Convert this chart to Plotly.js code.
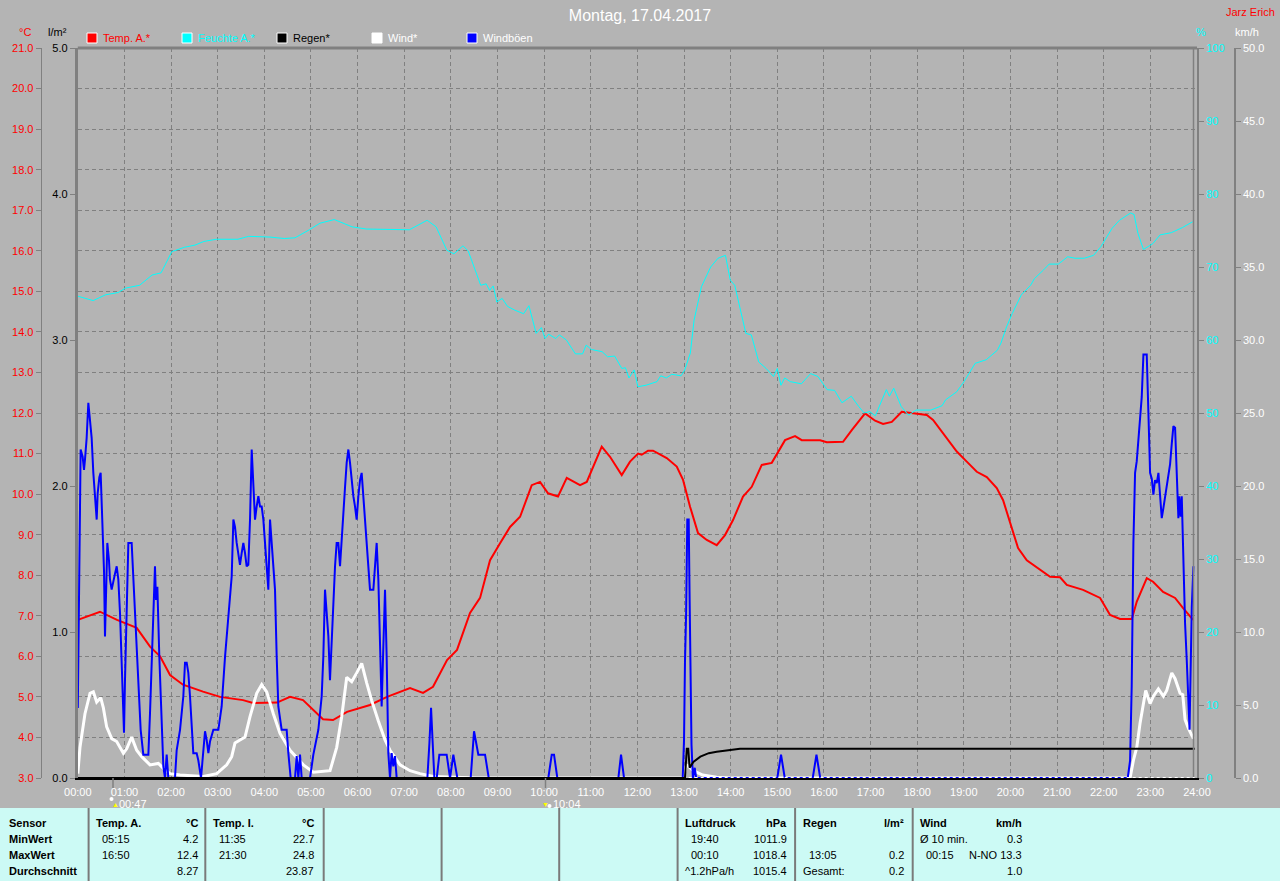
<!DOCTYPE html>
<html>
<head>
<meta charset="utf-8">
<script src="https://cdn.plot.ly/plotly-3.0.1.min.js"></script>
<style>
html,body{margin:0;padding:0;background:#b4b4b4;}
#chart{width:1280px;height:881px;}
</style>
</head>
<body>
<div id="chart"></div>
<script>
// ---------- DATA (time in hours of the day) ----------
const hourLabels = ['00:00','01:00','02:00','03:00','04:00','05:00','06:00','07:00','08:00','09:00','10:00','11:00','12:00','13:00','14:00','15:00','16:00','17:00','18:00','19:00','20:00','21:00','22:00','23:00','24:00'];
const hourVals = [0,1,2,3,4,5,6,7,8,9,10,11,12,13,14,15,16,17,18,19,20,21,22,23,24];

const tempT = [0,0.476,0.84,1.263,1.549,1.764,1.978,2.256,2.685,3.05,3.543,3.758,4.272,4.551,4.83,5.258,5.473,5.773,6.266,6.631,7.124,7.403,7.617,7.918,8.132,8.411,8.626,8.84,9.055,9.269,9.484,9.734,9.912,10.084,10.298,10.485,10.77,10.914,11.235,11.413,11.664,11.842,12.014,12.093,12.228,12.335,12.629,12.844,12.979,13.129,13.3,13.487,13.701,13.879,14.051,14.265,14.452,14.667,14.881,15.016,15.166,15.381,15.524,15.917,16.061,16.41,16.597,16.882,17.097,17.268,17.455,17.669,17.847,18.205,18.34,18.555,18.849,19.063,19.278,19.492,19.706,19.842,20.028,20.163,20.35,20.592,20.85,21.064,21.208,21.557,21.922,22.136,22.351,22.602,22.709,22.923,23.058,23.273,23.53,23.702,23.916];
const tempV = [6.9,7.1,6.9,6.7,6.24,6.0,5.54,5.3,5.13,5.0,4.92,4.85,4.86,5.0,4.92,4.45,4.43,4.63,4.8,5.0,5.22,5.1,5.25,5.91,6.16,7.07,7.44,8.37,8.79,9.19,9.44,10.22,10.3,10.02,9.94,10.4,10.22,10.3,11.17,10.92,10.47,10.8,11.0,10.97,11.07,11.07,10.89,10.68,10.35,9.69,9.04,8.87,8.74,8.99,9.36,9.94,10.18,10.72,10.77,11.05,11.33,11.43,11.33,11.33,11.28,11.29,11.58,11.99,11.81,11.73,11.78,12.03,12.0,11.95,11.83,11.5,11.05,10.8,10.55,10.42,10.15,9.85,9.2,8.67,8.37,8.18,7.96,7.95,7.76,7.64,7.44,7.02,6.92,6.92,7.35,7.93,7.84,7.59,7.44,7.19,6.9];

const humT = [0,0.33,0.598,0.866,1.021,1.325,1.593,1.786,2.016,2.284,2.513,2.704,2.972,3.433,3.663,4.122,4.429,4.658,4.965,5.194,5.501,5.883,6.189,6.725,7.109,7.491,7.684,7.913,8.066,8.259,8.372,8.64,8.756,8.831,8.908,8.986,9.099,9.215,9.367,9.56,9.674,9.829,9.942,10.019,10.096,10.249,10.326,10.478,10.671,10.824,10.901,11.014,11.244,11.36,11.512,11.666,11.743,11.819,11.93,12.01,12.183,12.421,12.5,12.618,12.738,12.936,13.015,13.135,13.215,13.373,13.571,13.729,13.888,13.991,14.087,14.326,14.443,14.602,14.761,14.92,14.999,15.078,15.158,15.278,15.516,15.713,15.872,16.069,16.228,16.387,16.586,16.745,16.863,16.983,17.101,17.339,17.403,17.497,17.656,17.815,17.974,18.291,18.533,18.608,18.846,19.005,19.243,19.481,19.719,19.798,19.916,20.036,20.234,20.433,20.513,20.71,20.83,21.027,21.227,21.385,21.583,21.782,21.941,22.179,22.338,22.576,22.65,22.734,22.852,23.052,23.208,23.448,23.686,23.907];
const humV = [66.0,65.4,66.2,66.5,67.1,67.5,68.9,69.2,72.1,72.7,73.0,73.5,73.8,73.8,74.2,74.1,73.9,74.0,75.1,76.0,76.5,75.5,75.2,75.1,75.1,76.4,75.5,72.3,71.8,72.9,72.2,67.5,67.7,66.8,67.4,65.2,65.7,64.6,64.1,63.6,64.7,60.9,61.7,60.2,60.8,60.2,60.7,60.0,58.1,58.1,59.3,58.7,58.4,57.7,57.8,56.1,56.2,54.8,55.9,53.6,53.8,54.3,55.1,54.8,55.3,55.1,55.9,58.2,62.7,67.3,70.0,71.2,71.6,68.2,67.5,60.9,60.7,57.0,56.1,55.0,56.1,53.8,54.8,54.3,54.0,55.4,55.0,53.2,53.1,51.4,52.3,50.9,50.0,50.2,49.6,53.2,52.3,53.4,50.9,49.7,50.4,50.4,51.0,51.8,52.9,54.3,56.8,57.3,58.6,59.6,61.8,63.6,66.2,67.5,68.4,69.6,70.4,70.4,71.4,71.2,71.2,71.6,72.8,75.3,76.4,77.4,77.2,74.6,72.4,73.2,74.4,74.7,75.4,76.2];

const windT = [0,0.047,0.154,0.262,0.333,0.405,0.491,0.548,0.619,0.727,0.834,0.977,1.048,1.155,1.263,1.37,1.548,1.727,1.834,1.977,2.192,2.692,2.978,3.193,3.3,3.371,3.478,3.586,3.693,3.836,3.944,4.051,4.193,4.336,4.551,4.837,5.051,5.409,5.552,5.659,5.767,5.874,5.981,6.088,6.196,6.303,6.445,6.588,6.695,6.91,7.124,7.338,7.624,8.554,12.98,13.05,13.1,13.2,13.4,13.7,14.0,22.565,22.636,22.708,22.779,22.851,22.9,22.994,23.065,23.172,23.28,23.351,23.459,23.53,23.637,23.695,23.744,23.816,23.923];
const windV = [0.3,2.1,4.4,5.8,5.9,5.2,5.5,4.8,3.5,2.7,2.5,1.7,2.0,2.8,1.9,1.46,0.9,1.0,0.66,0.3,0.2,0.1,0.3,0.9,1.46,2.4,2.6,2.8,4.2,5.8,6.4,5.9,4.4,3.05,1.9,0.9,0.4,0.5,2.1,4.2,6.9,6.6,7.2,7.85,6.5,5.3,3.9,2.6,1.9,0.9,0.5,0.3,0.1,0,0,0.9,0.8,0.5,0.2,0.05,0,0,1.2,2.1,3.75,5.1,6.0,5.1,5.6,6.1,5.6,6.0,7.2,6.8,5.8,5.7,4.0,3.4,2.7];

const gustT = [
0,0.033,0.061,0.104,0.133,0.154,0.19,0.226,0.262,0.297,
0.333,0.369,0.405,0.426,0.462,0.49,0.512,0.533,0.562,0.583,
0.605,0.633,0.669,0.69,0.726,0.762,0.798,0.834,0.869,0.905,
0.941,0.962,0.991,1.012,1.048,1.084,1.155,1.191,1.227,1.262,
1.298,1.348,1.405,1.513,1.548,1.584,1.62,1.655,1.677,1.706,
1.748,1.798,1.834,1.87,1.906,1.941,2.084,2.12,2.192,2.263,
2.299,2.335,2.37,2.406,2.477,2.549,2.585,2.642,2.678,2.728,
2.764,2.8,2.835,2.907,3.014,3.085,3.157,3.228,3.3,3.336,
3.371,3.407,3.443,3.478,3.514,3.55,3.586,3.621,3.657,3.693,
3.729,3.764,3.8,3.836,3.872,3.907,3.943,3.979,4.015,4.05,
4.086,4.122,4.157,4.193,4.229,4.265,4.3,4.372,4.479,4.515,
4.565,4.658,4.694,4.729,4.765,4.801,4.98,5.051,5.158,5.23,
5.265,5.301,5.337,5.373,5.408,5.444,5.48,5.516,5.551,5.587,
5.623,5.659,5.694,5.73,5.766,5.802,5.837,5.873,5.909,5.944,
5.98,6.016,6.052,6.087,6.123,6.159,6.195,6.23,6.266,6.338,
6.373,6.409,6.445,6.48,6.516,6.552,6.588,6.623,6.659,6.695,
6.73,6.766,6.802,6.838,7.496,7.54,7.575,7.61,7.646,7.697,
7.753,7.91,7.982,8.053,8.139,8.425,8.497,8.589,8.733,8.812,
10.09,10.163,10.212,10.283,11.592,11.649,11.713,12.972,13.0,13.02,
13.045,13.07,13.1,13.12,13.14,13.16,13.19,13.23,13.26,15.0,
15.08,15.16,15.76,15.84,15.92,22.515,22.565,22.6,22.636,22.672,
22.708,22.743,22.779,22.815,22.851,22.922,22.958,22.994,23.03,23.065,
23.1,23.137,23.173,23.208,23.244,23.28,23.315,23.387,23.423,23.459,
23.494,23.53,23.566,23.601,23.62,23.65,23.673,23.709,23.744,23.78,
23.816,23.84,23.866,23.888,23.923];
const gustV = [
4.8,13.6,22.5,22.0,21.1,21.8,23.3,25.7,24.7,23.3,
20.9,19.3,17.7,19.5,20.6,20.9,18.6,16.5,14.2,9.7,
13.6,16.1,14.9,13.6,12.9,13.6,14.0,14.5,13.6,11.3,
7.2,5.6,3.1,6.7,11.3,16.1,16.1,13.6,12.2,9.5,
7.2,3.3,1.6,1.6,4.4,7.9,11.7,14.5,12.2,13.1,
8.3,3.3,0.8,0,1.6,0,0,1.9,3.3,5.6,
7.9,7.9,7.2,5.6,1.7,1.7,1.2,0,1.2,3.2,
2.6,1.7,2.5,3.3,3.3,4.9,8.3,11.3,13.8,17.7,
17.2,16.1,15.2,14.6,15.4,16.1,15.4,14.5,14.6,17.7,
22.5,20.4,17.7,18.6,19.3,18.6,18.6,17.7,15.8,14.5,
12.9,17.7,16.1,14.5,12.9,8.3,4.9,3.3,3.3,1.7,
0,0,1.5,0,1.6,0,0,1.6,3.3,5.6,
8.3,12.9,11.3,9.7,6.7,9.7,12.4,14.5,16.1,16.1,
14.5,16.1,17.7,19.9,21.6,22.5,21.6,20.4,19.3,18.6,
17.7,19.3,20.4,20.9,19.3,17.7,15.4,14.0,12.9,12.9,
14.5,16.1,13.6,8.3,4.9,9.0,12.9,8.3,1.7,0,
1.7,0.8,1.5,0,0,2.4,4.8,2.4,0,0,
1.6,1.6,0,1.6,0,0,3.2,1.6,1.6,0,
0,1.6,1.6,0,0,1.6,0,0,2.6,7.9,
11.3,17.7,17.7,12.2,7.0,2.3,0,0.7,0,0,
1.6,0,0,1.6,0,0,1.2,6.3,16.1,20.9,
21.7,23.2,24.1,26.1,29.0,29.0,25.0,20.9,20.5,19.4,
20.4,20.2,20.9,19.3,17.8,18.5,19.3,20.6,21.5,22.9,
24.1,24.0,20.4,17.8,19.3,17.9,19.3,14.7,10.6,8.1,
5.3,3.3,7.8,11.7,14.5];

const rainT = [0,13.02,13.06,13.09,13.12,13.2,13.35,13.53,13.7,13.92,14.2,23.95];
const rainV = [0,0,0.2,0.2,0.07,0.11,0.146,0.17,0.18,0.19,0.2,0.2];

const tempTicks = [3,4,5,6,7,8,9,10,11,12,13,14,15,16,17,18,19,20,21];
const rainTicks = [0,1,2,3,4,5];
const humTicks = [0,10,20,30,40,50,60,70,80,90,100];
const windTicks = [0,5,10,15,20,25,30,35,40,45,50];

const legendNames = ['Temp. A.*','Feuchte A.*','Regen*','Wind*','Windböen'];
const legendFill = ['#ff0000','#00ffff','#000000','#ffffff','#0000ff'];
const legendTextColor = ['#ff0000','#00ffff','#000000','#ffffff','#ffffff'];

const rowLabels = ['Sensor','MinWert','MaxWert','Durchschnitt'];
const colHeads = ['Temp. A.','Temp. I.','Luftdruck','Regen','Wind'];
const colUnits = ['°C','°C','hPa','l/m²','km/h'];
const tempALeft = ['05:15','16:50',''];
const tempARight = ['4.2','12.4','8.27'];
const tempILeft = ['11:35','21:30',''];
const tempIRight = ['22.7','24.8','23.87'];
const pressLeft = ['19:40','00:10','^1.2hPa/h'];
const pressRight = ['1011.9','1018.4','1015.4'];
const rainLeft = ['','13:05','Gesamt:'];
const rainRight = ['','0.2','0.2'];
const windLeft = ['Ø 10 min.','00:15',''];
const windRight = ['0.3','N-NO 13.3','1.0'];

// ---------- LAYOUT HELPERS ----------
const W = 1280, H = 881;
const PX = x => x / W;
const PY = y => 1 - y / H;
const FONT = 'Liberation Sans, Arial, sans-serif';
const GRID = '#808080';
const plotL = 77.8, plotR = 1197, plotT = 48, plotB = 778;

const annotations = [];
const shapes = [];
function txt(x, y, text, color, size, anchor, extra) {
  annotations.push(Object.assign({
    xref: 'paper', yref: 'paper', x: PX(x), y: PY(y), text: text,
    showarrow: false, xanchor: anchor || 'center', yanchor: 'middle',
    font: {family: FONT, size: size || 11, color: color}, borderpad: 0
  }, extra || {}));
}
function line(x0, y0, x1, y1, color, width, dash) {
  shapes.push({type: 'line', xref: 'paper', yref: 'paper', x0: PX(x0), y0: PY(y0), x1: PX(x1), y1: PY(y1),
    line: {color: color, width: width, dash: dash || 'solid'}, layer: 'above'});
}

// header texts
txt(1250, 12, 'Jarz Erich', '#ff0000', 11);
txt(25, 32, '°C', '#ff0000', 11);
txt(57, 32, 'l/m²', '#000000', 11);
txt(1201, 32, '%', '#00ffff', 11);
txt(1247, 32, 'km/h', '#ffffff', 11);

// legend
legendNames.forEach((n, i) => {
  const x0 = 87 + i * 95;
  shapes.push({type: 'rect', xref: 'paper', yref: 'paper', x0: PX(x0), x1: PX(x0 + 10), y0: PY(43), y1: PY(33),
    fillcolor: legendFill[i], line: {color: '#ffffff', width: 1}, layer: 'above'});
  txt(x0 + 15, 38, n, legendTextColor[i], 11, 'left');
});

// plot frame
line(plotL, plotT, plotR, plotT, GRID, 3);
line(1193.5, plotT, 1193.5, plotB, GRID, 1.5);
// baseline: solid black until rain starts, dotted afterwards
shapes.push({type: 'line', xref: 'x', yref: 'paper', x0: 13.1, x1: 23.95, y0: PY(777.5), y1: PY(777.5),
  line: {color: '#ffffff', width: 1, dash: 'dot'}, layer: 'above'});

// sun / moon markers
line(113, 778, 113, 788, GRID, 1.5);
line(545.5, 778, 545.5, 788, GRID, 1.5);
shapes.push({type: 'circle', xref: 'paper', yref: 'paper', x0: PX(109.5), x1: PX(113.5), y0: PY(801), y1: PY(797), fillcolor: '#ffffff', line: {width: 0}});
shapes.push({type: 'circle', xref: 'paper', yref: 'paper', x0: PX(547.5), x1: PX(551.5), y0: PY(808), y1: PY(804), fillcolor: '#ffffff', line: {width: 0}});
txt(115.5, 804, '▲', '#ffff00', 7);
txt(545, 804, '▼', '#ffff00', 7);
txt(118, 804, '00:47', '#ffffff', 11, 'left');
txt(552, 804, '10:04', '#ffffff', 11, 'left');

// table
shapes.push({type: 'rect', xref: 'paper', yref: 'paper', x0: 0, x1: 1, y0: 0, y1: PY(808),
  fillcolor: '#ccfaf5', line: {width: 0}, layer: 'below'});
[88.6, 205.3, 323.7, 441.6, 559.2, 677.6, 795.1, 912.7].forEach(x => line(x, 808, x, 881, '#7a7a7a', 2));
const rowY = [823, 839, 855, 871];
rowLabels.forEach((r, i) => txt(8, rowY[i], '<b>' + r + '</b>', '#000000', 11, 'left'));
const colX = [88.6, 205.3, 677.6, 795.1, 912.7];
const colLeftTexts = [tempALeft, tempILeft, pressLeft, rainLeft, windLeft];
const colRightTexts = [tempARight, tempIRight, pressRight, rainRight, windRight];
colHeads.forEach((h, c) => {
  const x0 = colX[c], x1 = colX[c] + 110;
  txt(x0 + 6.5, rowY[0], '<b>' + h + '</b>', '#000000', 11, 'left');
  txt(x1, rowY[0], '<b>' + colUnits[c] + '</b>', '#000000', 11, 'right');
  for (let r = 0; r < 3; r++) {
    const lt = colLeftTexts[c][r];
    if (lt) txt(x0 + (/^\d/.test(lt) ? 12.5 : 6.5), rowY[r + 1], lt, '#000000', 11, 'left');
    const rt = colRightTexts[c][r];
    if (rt) txt(x1, rowY[r + 1], rt, '#000000', 11, 'right');
  }
});

// ---------- TRACES ----------
const traces = [
  {x: tempT, y: tempV, yaxis: 'y', type: 'scatter', mode: 'lines', name: legendNames[0], line: {color: '#ff0000', width: 2}},
  {x: humT, y: humV, yaxis: 'y2', type: 'scatter', mode: 'lines', name: legendNames[1], line: {color: '#00ffff', width: 1}},
  {x: windT, y: windV, yaxis: 'y3', type: 'scatter', mode: 'lines', name: legendNames[3], line: {color: '#ffffff', width: 3}},
  {x: gustT, y: gustV, yaxis: 'y3', type: 'scatter', mode: 'lines', name: legendNames[4], line: {color: '#0000ff', width: 2}},
  {x: rainT, y: rainV, yaxis: 'y4', type: 'scatter', mode: 'lines', name: legendNames[2], line: {color: '#000000', width: 2}}
];

const yDom = [PY(plotB), PY(plotT)];
const tickFont = c => ({family: FONT, size: 11, color: c});

const layout = {
  width: W, height: H,
  margin: {l: 0, r: 0, t: 0, b: 0, pad: 0},
  paper_bgcolor: '#b4b4b4', plot_bgcolor: '#b4b4b4',
  font: {family: FONT, size: 11},
  showlegend: false,
  hovermode: false,
  title: {text: 'Montag, 17.04.2017', x: 0.5, xanchor: 'center', y: PY(15), yanchor: 'middle', yref: 'paper',
          font: {family: FONT, size: 16, color: '#ffffff'}},
  xaxis: {
    domain: [PX(plotL), PX(plotR)], range: [0, 24],
    tickvals: hourVals, ticktext: hourLabels, tickfont: tickFont('#ffffff'),
    ticks: 'outside', ticklen: 3, tickcolor: 'rgba(0,0,0,0)',
    showgrid: true, gridcolor: GRID, griddash: '4px,3px', gridwidth: 1,
    zeroline: false, showline: true, linecolor: '#000000', linewidth: 2, layer: 'above traces', fixedrange: true
  },
  yaxis: {
    domain: yDom, range: [3, 21], anchor: 'free', position: PX(40.7), side: 'left',
    tickvals: tempTicks, ticktext: tempTicks.map(v => v.toFixed(1)), tickfont: tickFont('#ff0000'),
    ticks: 'outside', ticklen: 5, tickcolor: GRID,
    showline: true, linecolor: GRID, linewidth: 1.5,
    showgrid: true, gridcolor: GRID, griddash: '4px,3px', gridwidth: 1,
    zeroline: false, fixedrange: true
  },
  yaxis2: {
    domain: yDom, range: [0, 100], overlaying: 'y', anchor: 'x', side: 'right',
    tickvals: humTicks, ticktext: humTicks.map(String), tickfont: tickFont('#00ffff'),
    ticks: 'outside', ticklen: 5, tickcolor: GRID,
    showline: true, linecolor: GRID, linewidth: 2,
    showgrid: false, zeroline: false, fixedrange: true
  },
  yaxis3: {
    domain: yDom, range: [0, 50], overlaying: 'y', anchor: 'free', position: PX(1234.3), side: 'right',
    tickvals: windTicks, ticktext: windTicks.map(v => v.toFixed(1)), tickfont: tickFont('#ffffff'),
    ticks: 'outside', ticklen: 5, tickcolor: GRID,
    showline: true, linecolor: GRID, linewidth: 1.5,
    showgrid: false, zeroline: false, fixedrange: true
  },
  yaxis4: {
    domain: yDom, range: [0, 5], overlaying: 'y', anchor: 'x', side: 'left',
    tickvals: rainTicks, ticktext: rainTicks.map(v => v.toFixed(1)), tickfont: tickFont('#000000'),
    ticks: 'outside', ticklen: 5, tickcolor: GRID,
    showline: true, linecolor: GRID, linewidth: 3,
    showgrid: false, zeroline: false, fixedrange: true
  },
  shapes: shapes,
  annotations: annotations
};

Plotly.newPlot('chart', traces, layout, {displayModeBar: false, staticPlot: true});
</script>
</body>
</html>
